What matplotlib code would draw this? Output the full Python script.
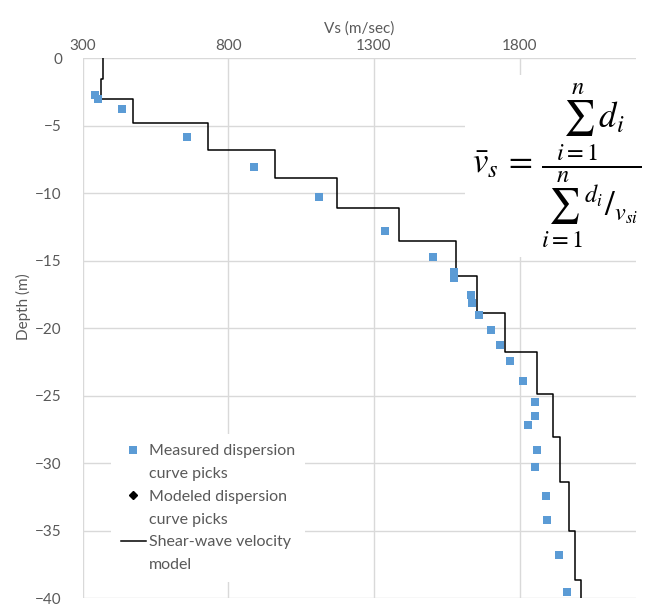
import numpy as np
import matplotlib
matplotlib.use("Agg")
import matplotlib.pyplot as plt
from matplotlib.lines import Line2D

plt.rcParams['font.family'] = ['Lato', 'DejaVu Sans']

# measured dispersion curve picks (Vs m/sec, depth m)
meas_vs = [342, 354, 434, 659, 887, 1112, 1338, 1501, 1573, 1573, 1632, 1637,
           1662, 1703, 1734, 1766, 1812, 1853, 1853, 1827, 1858, 1852, 1890,
           1894, 1936, 1963]
meas_depth = [-2.69, -2.99, -3.77, -5.85, -8.03, -10.31, -12.77, -14.7, -15.87,
              -16.28, -17.52, -18.14, -19.01, -20.15, -21.26, -22.43, -23.9,
              -25.48, -26.52, -27.21, -29.0, -30.26, -32.42, -34.2, -36.83,
              -39.55]

# shear-wave velocity model: layer boundaries (m) and layer velocities
layer_bounds = [0, 1.5, 3.05, 4.83, 6.77, 8.87, 11.12, 13.56, 16.1, 18.89,
                21.76, 24.9, 28.06, 31.4, 35.0, 38.7, 40]
layer_vs = [369, 364, 474, 730, 960, 1174, 1386, 1580, 1653, 1750, 1860,
            1913, 1939, 1968, 1990, 2011]

x_ticks = [300, 800, 1300, 1800]
y_ticks = [0, -5, -10, -15, -20, -25, -30, -35, -40]

grey = '#595959'
blue = '#5B9BD5'

fig = plt.figure(figsize=(6.62, 6.06), dpi=100)
ax = fig.add_axes([0.125, 0.0132, 0.836, 0.8906])

# step model
step_x = np.repeat(layer_vs, 2)
step_y = -np.repeat(layer_bounds, 2)[1:-1]
ax.plot(step_x, step_y, color='black', lw=1.1, zorder=3)

ax.plot(meas_vs, meas_depth, 's', color=blue, markersize=6.3,
        markeredgewidth=0, zorder=4)

ax.set_xlim(300, 2200)
ax.set_ylim(-40, 0)
ax.set_xticks(x_ticks)
ax.set_yticks(y_ticks)
ax.xaxis.tick_top()
ax.xaxis.set_label_position('top')
ax.tick_params(length=0, labelsize=11, colors=grey)
ax.tick_params(axis='y', pad=15)
ax.tick_params(axis='x', pad=4)
for s in ax.spines.values():
    s.set_visible(False)
ax.grid(True, color='#D9D9D9', lw=1)
ax.set_axisbelow(True)
ax.set_xlabel('Vs (m/sec)', fontsize=11, color=grey, labelpad=4)
ax.set_ylabel('Depth (m)', fontsize=11, color=grey)
ax.yaxis.set_label_coords(-0.094, 0.54)

# legend, one entry per text line
blank = Line2D([], [], linestyle='none')
handles = [
    Line2D([], [], linestyle='none', marker='s', color=blue, markersize=6.3,
           markeredgewidth=0),
    blank,
    Line2D([], [], linestyle='none', marker='D', color='black', markersize=4.5),
    blank,
    Line2D([], [], color='black', lw=1.1),
    blank,
]
labels = ['Measured dispersion', 'curve picks', 'Modeled dispersion',
          'curve picks', 'Shear-wave velocity', 'model']
leg = ax.legend(handles, labels, loc='lower left',
                bbox_to_anchor=(0.051, 0.03), borderaxespad=0,
                frameon=True, facecolor='white', edgecolor='none',
                framealpha=1, fancybox=False, fontsize=11.5,
                labelspacing=0.54, handlelength=1.6, handletextpad=0.2,
                borderpad=0.6)
for t in leg.get_texts():
    t.set_color(grey)

# average shear-wave velocity formula
formula = (r'$\bar{v}_s \,=\, \dfrac{\sum_{i=1}^{n} d_i}'
           r'{\sum_{i=1}^{n} {}^{d_i}/_{v_{si}}}$')
fig.text(0.713, 0.726, formula, fontsize=25, math_fontfamily='stix',
         ha='left', va='center', color='black',
         bbox=dict(facecolor='white', edgecolor='none', pad=5))

fig.savefig('out.png', dpi=100)
